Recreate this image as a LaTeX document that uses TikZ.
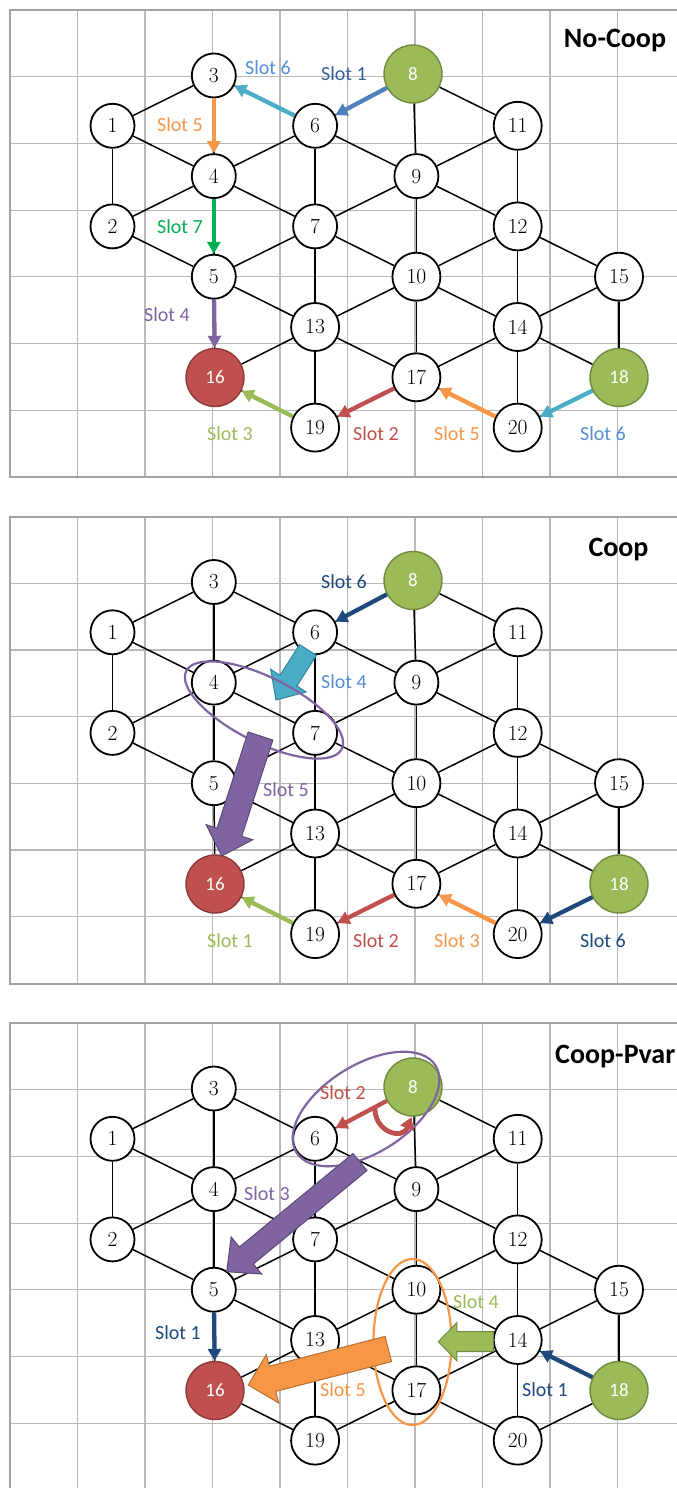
\documentclass[tikz,border=0pt]{standalone}
\usepackage{fontspec}
\newfontfamily\calibri{Carlito}
\usetikzlibrary{calc,arrows.meta,shapes.geometric}
\definecolor{gridgray}{HTML}{B8B8B8}
\definecolor{framegray}{HTML}{A4A4A4}
\definecolor{blueA}{HTML}{4F81BD}
\definecolor{blueLbl}{HTML}{36609A}
\definecolor{navy}{HTML}{1F497D}
\definecolor{cyanA}{HTML}{4BACC6}
\definecolor{cyanD}{HTML}{31859C}
\definecolor{lblue}{HTML}{558ED5}
\definecolor{orangeA}{HTML}{F79646}
\definecolor{orangeD}{HTML}{B7702F}
\definecolor{greenA}{HTML}{00B050}
\definecolor{purpleA}{HTML}{8064A2}
\definecolor{purpleD}{HTML}{5C4A78}
\definecolor{redA}{HTML}{C0504D}
\definecolor{redD}{HTML}{8C3A38}
\definecolor{lgreen}{HTML}{9BBB59}
\definecolor{lgreenD}{HTML}{71893F}
\tikzset{
  gridline/.style={draw=gridgray, line width=1.2pt},
  frameline/.style={draw=framegray, line width=2pt},
  edge/.style={draw=black, line width=1.5pt},
  wn/.style={circle, draw=black, line width=1.8pt, fill=white, minimum size=44pt, inner sep=0pt, font=\fontsize{21.5}{21.5}\selectfont},
  wnb/.style={wn, minimum size=48pt},
  gn/.style={circle, draw=lgreenD, line width=1.4pt, fill=lgreen, minimum size=58pt, inner sep=0pt, text=white, font=\calibri\fontsize{19}{19}\selectfont},
  rn/.style={circle, draw=redD, line width=1.4pt, fill=redA, minimum size=58pt, inner sep=0pt, text=white, font=\calibri\fontsize{19}{19}\selectfont},
  thinarr/.style={line width=4.3pt, -{Triangle[length=12pt,width=13pt]}},
  slotlbl/.style={font=\calibri\fontsize{20}{20}\selectfont, inner sep=0pt},
  ttl/.style={font=\calibri\bfseries\fontsize{28}{28}\selectfont, inner sep=0pt, anchor=base},
  blk/.style={line width=1pt, line join=miter},
  ring/.style={ellipse, draw, line width=2.2pt, inner sep=0pt, fill=none},
}
\newcommand\DrawPanel[2]{%
  \foreach \k in {0,...,10} \draw[gridline] ({10+67.5*\k},{#2+10}) -- ({10+67.5*\k},{#2+477});
  \foreach \m in {1,...,6} \draw[gridline] (10,{#2+10+66.7*\m}) -- (690,{#2+10+66.7*\m});
  \draw[frameline] (10,{#2+10}) rectangle (690,{#2+477});
  \foreach \n/\c/\r in {1/0/1,2/0/3,3/1/0,4/1/2,5/1/4,6/2/1,7/2/3,9/3/2}
    \node[wn] (#1n\n) at ({112.5+101.3*\c},{#2+75.5+50.3*\r}) {\n};
  \foreach \n/\c/\r in {10/3/4,11/4/1,12/4/3,13/2/5,14/4/5,15/5/4,17/3/6,19/2/7,20/4/7}
    \node[wnb] (#1n\n) at ({112.5+101.3*\c},{#2+75.5+50.3*\r}) {\n};
  \node[gn] (#1n8) at (413,{#2+74}) {8};
  \node[rn] (#1n16) at (215,{#2+377.5}) {16};
  \node[gn] (#1n18) at (619,{#2+377.5}) {18};
  \foreach \a/\b in {1/2,1/3,1/4,2/4,2/5,3/4,3/6,4/5,4/6,4/7,5/7,5/13,5/16,6/7,6/8,6/9,7/9,7/10,7/13,8/9,8/11,9/10,9/11,9/12,10/12,10/13,10/14,10/17,11/12,12/14,12/15,13/16,13/17,13/19,14/15,14/17,14/18,14/20,15/18,16/19,17/19,17/20,18/20}
    \draw[edge] (#1n\a) -- (#1n\b);
}
\newcommand\BlkArrow[7]{%
  \coordinate (#1T) at #2;
  \coordinate (#1P) at #3;
  \coordinate (#1H) at ($(#1P)!#6!(#1T)$);
  \draw[#7] ($(#1T)!#4!90:(#1P)$) -- ($(#1H)!#4!90:(#1P)$) -- ($(#1H)!#5!90:(#1P)$) -- (#1P)
    -- ($(#1H)!#5!-90:(#1P)$) -- ($(#1H)!#4!-90:(#1P)$) -- ($(#1T)!#4!-90:(#1P)$) -- cycle;
}
\begin{document}
\begin{tikzpicture}[x=1pt,y=-1pt]
\useasboundingbox (0,0) rectangle (677,1488);
\fill[white] (0,0) rectangle (677,1488);
\clip (0,0) rectangle (677,1488);

% ---------------- Panel 1: No-Coop ----------------
\DrawPanel{a}{0}
\node[ttl] (ta) at (615,48) {No-Coop};
\draw[thinarr, draw=blueA] (an8) -- (an6);
\draw[thinarr, draw=cyanA] (an6) -- (an3);
\draw[thinarr, draw=orangeA] (an3) -- (an4);
\draw[thinarr, draw=greenA] (an4) -- (an5);
\draw[thinarr, draw=purpleA] (an5) -- (an16);
\draw[thinarr, draw=lgreen] (an19) -- (an16);
\draw[thinarr, draw=redA] (an17) -- (an19);
\draw[thinarr, draw=orangeA] (an20) -- (an17);
\draw[thinarr, draw=cyanA] (an18) -- (an20);
\node[slotlbl, text=blueLbl] (al1) at (344,74) {Slot 1};
\node[slotlbl, text=lblue] (al2) at (268,68) {Slot 6};
\node[slotlbl, text=orangeA] (al3) at (180,125) {Slot 5};
\node[slotlbl, text=greenA] (al4) at (180,227) {Slot 7};
\node[slotlbl, text=purpleA] (al5) at (167,315) {Slot 4};
\node[slotlbl, text=lgreen] (al6) at (230,434) {Slot 3};
\node[slotlbl, text=redA] (al7) at (376,434) {Slot 2};
\node[slotlbl, text=orangeA] (al8) at (457,434) {Slot 5};
\node[slotlbl, text=lblue] (al9) at (603,434) {Slot 6};

% ---------------- Panel 2: Coop ----------------
\DrawPanel{b}{506.5}
\node[ttl] (tb) at (618.5,556) {Coop};
\draw[thinarr, draw=navy] (bn8) -- (bn6);
\node[slotlbl, text=navy] (bl1) at (344,582) {Slot 6};
\BlkArrow{bc}{(308,650)}{(276,700)}{10pt}{21pt}{23pt}{blk, fill=cyanA, draw=cyanD}
\node[slotlbl, text=lblue] (bl2) at (344,682) {Slot 4};
\node[ring, draw=purpleA, minimum width=174pt, minimum height=65pt, rotate=-26.6] (bring) at (264,710) {};
\BlkArrow{bp}{(260.5,736)}{(221.7,856)}{13pt}{24.5pt}{25pt}{blk, fill=purpleA, draw=purpleD}
\node[slotlbl, text=purpleA] (bl3) at (286,790) {Slot 5};
\draw[thinarr, draw=lgreen] (bn19) -- (bn16);
\draw[thinarr, draw=redA] (bn17) -- (bn19);
\draw[thinarr, draw=orangeA] (bn20) -- (bn17);
\draw[thinarr, draw=navy] (bn18) -- (bn20);
\node[slotlbl, text=lgreen] (bl4) at (230,941) {Slot 1};
\node[slotlbl, text=redA] (bl5) at (376,941) {Slot 2};
\node[slotlbl, text=orangeA] (bl6) at (457,941) {Slot 3};
\node[slotlbl, text=navy] (bl7) at (603,941) {Slot 6};

% ---------------- Panel 3: Coop-Pvar ----------------
\DrawPanel{c}{1013}
\node[ttl, anchor=base west] (tc) at (555,1063) {Coop-Pvar};
\node[ring, draw=purpleA, minimum width=164pt, minimum height=88pt, rotate=32] (cring) at (366,1109) {};
\draw[thinarr, draw=redA] (cn8) -- (cn6);
\coordinate (hkS) at (375,1108);
\coordinate (hkE) at (411.5,1117);
\draw[line width=4.8pt, draw=redA, -{Triangle[length=12pt,width=14pt]}] (hkS) .. controls (374,1131) and (402,1141) .. (hkE);
\node[slotlbl, text=redA] (cl1) at (343,1093) {Slot 2};
\BlkArrow{cp}{(360,1162)}{(226.7,1271.7)}{11pt}{24pt}{25.5pt}{blk, fill=purpleA, draw=purpleD}
\node[slotlbl, text=purpleA] (cl2) at (267,1194) {Slot 3};
\node[ring, draw=orangeA, minimum width=78pt, minimum height=166pt] (cring2) at (412.5,1342) {};
\BlkArrow{cg}{(493.3,1341.7)}{(438.3,1341.7)}{10pt}{19pt}{18.5pt}{blk, fill=lgreen, draw=lgreenD}
\node[slotlbl, text=lgreen] (cl3) at (476,1302) {Slot 4};
\BlkArrow{co}{(388.3,1349)}{(248.3,1385)}{13pt}{25pt}{25pt}{blk, fill=orangeA, draw=orangeD}
\node[slotlbl, text=orangeA] (cl4) at (343,1390) {Slot 5};
\draw[thinarr, draw=navy] (cn5) -- (cn16);
\node[slotlbl, text=navy] (cl5) at (178,1333) {Slot 1};
\draw[thinarr, draw=navy] (cn18) -- (cn14);
\node[slotlbl, text=navy] (cl6) at (545,1390) {Slot 1};
\end{tikzpicture}
\end{document}
